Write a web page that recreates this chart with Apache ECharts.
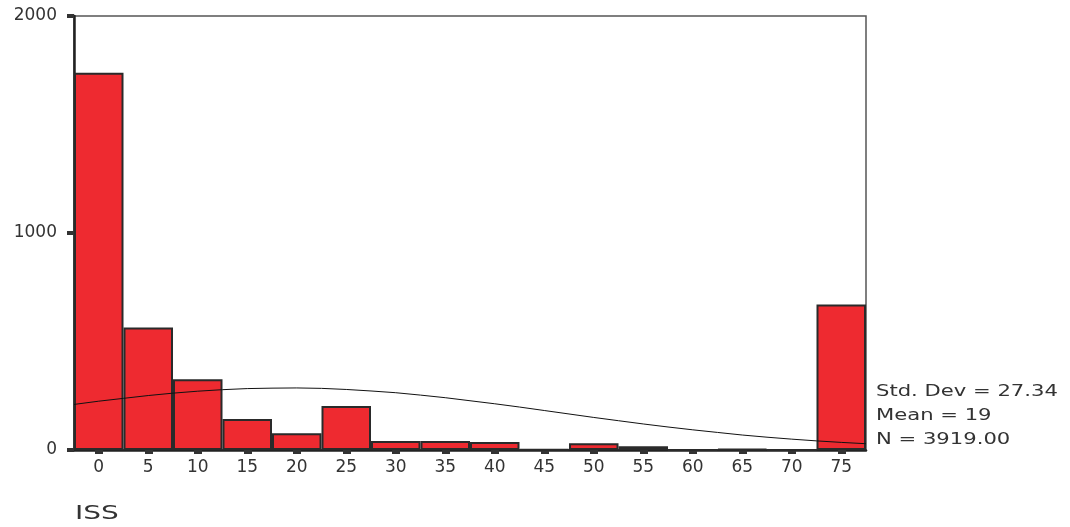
<!DOCTYPE html>
<html>
<head>
<meta charset="utf-8">
<script src="https://cdn.jsdelivr.net/npm/echarts@6/dist/echarts.min.js"></script>
<style>html,body{margin:0;padding:0;background:#fff}#c{width:1070px;height:527px}</style>
</head>
<body>
<div id="c"></div>
<script>
// Histogram bins (ISS), bin centres
const categories = ['0','5','10','15','20','25','30','35','40','45','50','55','60','65','70','75'];
const counts = [1738, 564, 326, 143, 77, 203, 41, 41, 37, 3, 31, 17, 0, 4, 0, 671];
// Normal curve (Mean 19, Std. Dev 27.34, N 3919)
const curveX = [-2.5,0,2.5,5,7.5,10,12.5,15,17.5,20,22.5,25,27.5,30,32.5,35,37.5,40,42.5,45,47.5,50,52.5,55,57.5,60,62.5,65,67.5,70,72.5,75,77.5];
const curveY = [210,225,238,251,262,271,278,283,285,286,284,279,272,264,253,241,227,213,198,182,166,150,135,120,106,93,81,69,59,50,42,35,29];
const yTicks = [0, 1000, 2000];
const statsLines = ['Std. Dev = 27.34', 'Mean = 19', 'N = 3919.00'];
const axisTitle = 'ISS';

const chart = echarts.init(document.getElementById('c'), null, {renderer: 'canvas'});
const font = 'DejaVu Sans';
chart.setOption({
  animation: false,
  backgroundColor: '#fff',
  grid: {left: 74, right: 204, top: 16, bottom: 77, show: true, borderColor: '#555', borderWidth: 1.5, backgroundColor: 'transparent'},
  xAxis: [{
    type: 'category', data: categories, boundaryGap: true,
    axisLine: {onZero: false, lineStyle: {color: '#222', width: 2.5}},
    axisTick: {show: true, alignWithLabel: true, length: 4, inside: false, lineStyle: {color: '#333', width: 8}},
    axisLabel: {color: '#333', fontFamily: font, fontSize: 17, margin: 9},
    splitLine: {show: false}
  }, {
    type: 'value', min: -2.5, max: 77.5, show: false
  }],
  yAxis: {
    type: 'value', min: 0, max: 2000, interval: 1000,
    axisLine: {show: true, onZero: false, lineStyle: {color: '#222', width: 2.5}},
    axisTick: {show: true, length: 7, lineStyle: {color: '#333', width: 4}},
    axisLabel: {color: '#333', fontFamily: font, fontSize: 17, margin: 17,
      formatter: v => yTicks.indexOf(v) >= 0 ? String(v) : ''},
    splitLine: {show: false}
  },
  series: [{
    type: 'bar', data: counts, xAxisIndex: 0, barCategoryGap: '0%',
    itemStyle: {color: '#ee2a30', borderColor: '#2a2a2a', borderWidth: 2}
  }, {
    type: 'line', xAxisIndex: 1, data: curveX.map((x, i) => [x, curveY[i]]),
    showSymbol: false, symbol: 'none', smooth: false,
    lineStyle: {color: '#111', width: 1}, z: 5
  }],
  graphic: [
    ...statsLines.map((t, i) => ({
      type: 'text', x: 876, y: 392 + i * 24, scaleX: 1.32,
      style: {text: t, fill: '#333', font: '16px "DejaVu Sans"', textVerticalAlign: 'middle', textAlign: 'left'}
    })),
    {type: 'text', x: 75, y: 514, scaleX: 1.4,
     style: {text: axisTitle, fill: '#333', font: '20px "DejaVu Sans"', textVerticalAlign: 'middle', textAlign: 'left'}}
  ]
});
</script>
</body>
</html>
